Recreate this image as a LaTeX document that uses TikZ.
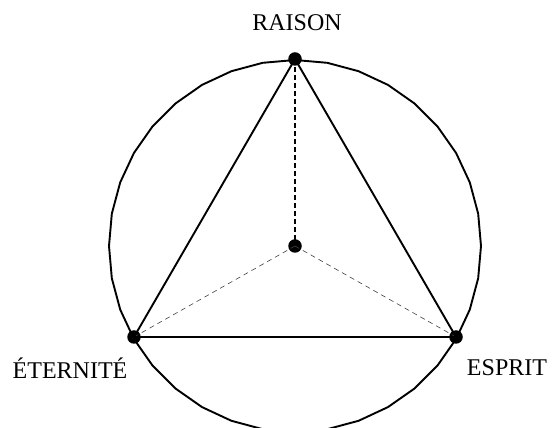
\documentclass[tikz,border=0pt]{standalone}
\usepackage{fontspec}
\setmainfont{Liberation Serif}
\usetikzlibrary{calc}
\begin{document}
\begin{tikzpicture}[x=1pt,y=1pt,
  dot/.style={circle,fill=black,inner sep=0pt,minimum size=13.5pt},
  lbl/.style={font=\fontsize{24}{28}\selectfont,inner sep=0pt},
  edge/.style={line width=1.9pt},
  thickdash/.style={line width=1.9pt,dash pattern=on 5pt off 3pt},
  thindash/.style={line width=0.6pt,dash pattern=on 5pt off 4pt,black!75}]
\useasboundingbox (0,0) rectangle (557,428);
\begin{scope}
\clip (0,0) rectangle (557,428);
\coordinate (c) at (295,182);
\draw[line width=1.9pt,line join=round] ($(c)+(90:186)$)
  \foreach \k in {1,...,35} { -- ($(c)+(90+\k*10:186)$) } -- cycle;
\end{scope}
\node[dot] (o) at (295,182) {};
\node[dot] (r) at (295,369) {};
\node[dot] (e) at (134,91) {};
\node[dot] (s) at (456,91) {};
\draw[thickdash] (r.center) -- (o.center);
\draw[thindash] (o.center) -- (e.center);
\draw[thindash] (o.center) -- (s.center);
\draw[edge,line join=round] (r.center) -- (e.center) -- (s.center) -- cycle;
\node[lbl] (lr) at (297,405) {RAISON};
\node[lbl] (le) at (70,60) {ÉTERNITÉ};
\node[lbl] (ls) at (507,60) {ESPRIT};
\end{tikzpicture}
\end{document}
